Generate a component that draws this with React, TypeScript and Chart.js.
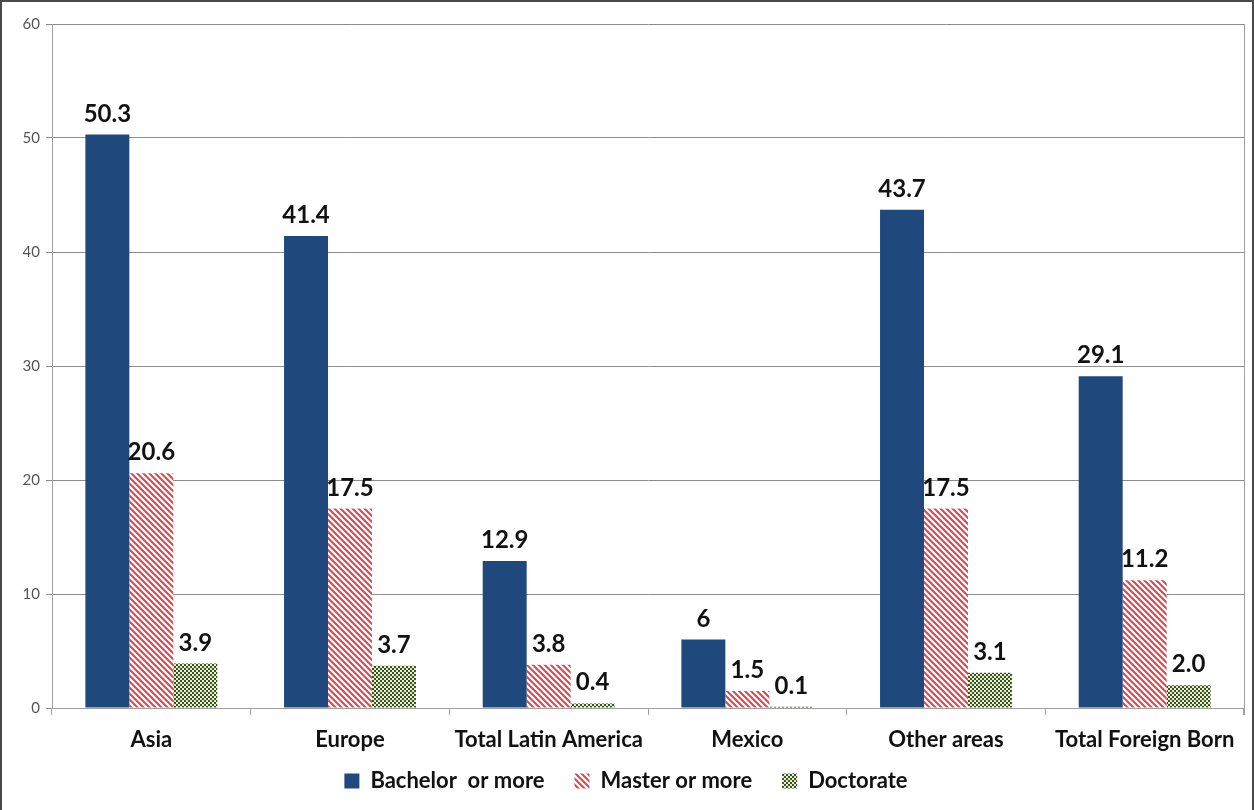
import React, { useEffect, useRef } from "react";
import { Chart, registerables } from "chart.js";

Chart.register(...registerables);

const categories = ["Asia", "Europe", "Total Latin America", "Mexico", "Other areas", "Total Foreign Born"];
const seriesNames = ["Bachelor  or more", "Master or more", "Doctorate"];
const bachelor = [50.3, 41.4, 12.9, 6, 43.7, 29.1];
const master = [20.6, 17.5, 3.8, 1.5, 17.5, 11.2];
const doctorate = [3.9, 3.7, 0.4, 0.1, 3.1, 2.0];
const bachelorLabels = ["50.3", "41.4", "12.9", "6", "43.7", "29.1"];
const masterLabels = ["20.6", "17.5", "3.8", "1.5", "17.5", "11.2"];
const doctorateLabels = ["3.9", "3.7", "0.4", "0.1", "3.1", "2.0"];
const yTicks = [0, 10, 20, 30, 40, 50, 60];

const FONT = "Lato, 'Open Sans', sans-serif";

function stripePattern(ctx: CanvasRenderingContext2D) {
  const c = document.createElement("canvas");
  c.width = 6;
  c.height = 6;
  const g = c.getContext("2d")!;
  g.fillStyle = "#ffffff";
  g.fillRect(0, 0, 6, 6);
  g.strokeStyle = "#e0454b";
  g.lineWidth = 2;
  g.beginPath();
  g.moveTo(-3, -3);
  g.lineTo(9, 9);
  g.moveTo(-3, 3);
  g.lineTo(3, 9);
  g.moveTo(3, -3);
  g.lineTo(9, 3);
  g.stroke();
  return ctx.createPattern(c, "repeat")!;
}

function checkerPattern(ctx: CanvasRenderingContext2D) {
  const c = document.createElement("canvas");
  c.width = 4;
  c.height = 4;
  const g = c.getContext("2d")!;
  g.fillStyle = "#e6ecd2";
  g.fillRect(0, 0, 4, 4);
  g.fillStyle = "#3b5320";
  g.fillRect(0, 0, 2, 2);
  g.fillRect(2, 2, 2, 2);
  return ctx.createPattern(c, "repeat")!;
}

const labelSets = [bachelorLabels, masterLabels, doctorateLabels];

const valueLabelPlugin = {
  id: "valueLabels",
  afterDatasetsDraw(chart: any) {
    const ctx = chart.ctx;
    ctx.save();
    ctx.font = `bold 24px ${FONT}`;
    ctx.fillStyle = "#111111";
    ctx.textAlign = "center";
    ctx.textBaseline = "alphabetic";
    chart.data.datasets.forEach((_: any, di: number) => {
      const meta = chart.getDatasetMeta(di);
      meta.data.forEach((el: any, i: number) => {
        ctx.fillText(labelSets[di][i], el.x, el.y - 13);
      });
    });
    ctx.restore();
  },
};

// let the category labels extend below the (compact) x-axis box instead of being clipped
const unclipXLabelsPlugin = {
  id: "unclipXLabels",
  beforeDraw(chart: any) {
    const x = chart.scales.x;
    if (x) x.bottom = chart.height;
  },
};

const frameRightPlugin = {
  id: "frameRight",
  afterDraw(chart: any) {
    const { ctx, chartArea } = chart;
    ctx.save();
    ctx.strokeStyle = "#a0a0a0";
    ctx.lineWidth = 1;
    ctx.beginPath();
    ctx.moveTo(chartArea.right + 0.5, chartArea.top);
    ctx.lineTo(chartArea.right + 0.5, chartArea.bottom + 7);
    ctx.stroke();
    ctx.restore();
  },
};

export default function App() {
  const ref = useRef<HTMLCanvasElement>(null);
  useEffect(() => {
    const canvas = ref.current!;
    const ctx = canvas.getContext("2d")!;
    const chart = new Chart(ctx, {
      type: "bar",
      data: {
        labels: categories,
        datasets: [
          { label: seriesNames[0], data: bachelor, backgroundColor: "#1f497d" },
          { label: seriesNames[1], data: master, backgroundColor: stripePattern(ctx) },
          { label: seriesNames[2], data: doctorate, backgroundColor: checkerPattern(ctx) },
        ],
      },
      options: {
        animation: false,
        responsive: false,
        maintainAspectRatio: false,
        layout: { autoPadding: false, padding: { left: 6, right: 8, top: 22, bottom: 8 } },
        datasets: {
          bar: { barPercentage: 1, categoryPercentage: 0.664 },
        },
        scales: {
          x: {
            afterFit: (s: any) => {
              s.height = 32;
            },
            grid: {
              display: true,
              drawOnChartArea: false,
              tickLength: 7,
              color: "#a0a0a0",
              offset: true,
            },
            border: { color: "#a0a0a0" },
            ticks: {
              color: "#111111",
              font: { family: FONT, size: 22, weight: "bold" },
              padding: 12,
              maxRotation: 0,
              autoSkip: false,
            },
          },
          y: {
            min: 0,
            max: 60,
            afterBuildTicks: (s: any) => {
              s.ticks = yTicks.map((v) => ({ value: v }));
            },
            afterFit: (s: any) => {
              s.width = 44;
            },
            grid: { color: "#8c8c8c", tickLength: 6 },
            border: { color: "#a0a0a0" },
            ticks: {
              color: "#555555",
              font: { family: FONT, size: 15 },
              padding: 6,
            },
          },
        },
        plugins: {
          legend: {
            position: "bottom",
            labels: {
              color: "#111111",
              font: { family: FONT, size: 22, weight: "bold" },
              boxWidth: 15,
              boxHeight: 15,
              padding: 30,
            },
          },
          tooltip: { enabled: false },
        },
      },
      plugins: [valueLabelPlugin, unclipXLabelsPlugin, frameRightPlugin],
    });
    return () => chart.destroy();
  }, []);

  return (
    <div
      style={{
        position: "fixed",
        left: 0,
        top: 0,
        width: 1254,
        height: 810,
        background: "#ffffff",
        boxSizing: "border-box",
        border: "2px solid #4a4a4a",
        borderBottom: "none",
      }}
    >
      <canvas ref={ref} width={1250} height={808} style={{ display: "block" }} />
    </div>
  );
}
